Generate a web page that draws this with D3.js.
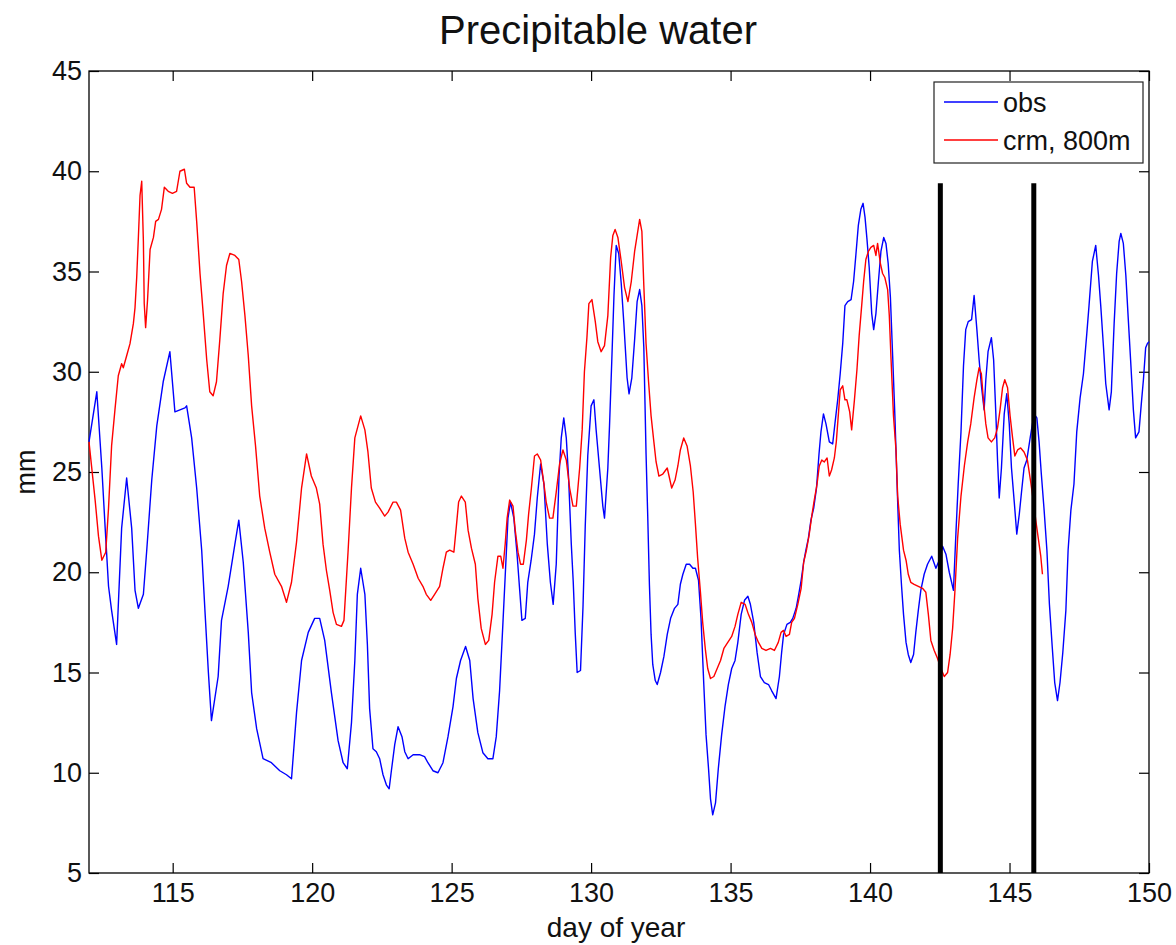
<!DOCTYPE html>
<html>
<head>
<meta charset="utf-8">
<script src="https://cdn.jsdelivr.net/npm/d3@7"></script>
<style>
  body { margin: 0; background: #fff; }
  #chart { width: 1176px; height: 945px; }
  text { font-family: "Liberation Sans", Arial, Helvetica, sans-serif; fill: #111; }
</style>
</head>
<body>
<div id="chart"></div>
<script>
// Datos (día del año, mm)
const obsDays = [112.0,112.28,112.46,112.58,112.70,112.81,112.99,113.17,113.35,113.53,113.65,113.77,113.95,114.07,114.25,114.43,114.66,114.90,115.08,115.44,115.50,115.68,115.86,116.04,116.16,116.28,116.39,116.63,116.75,116.99,117.23,117.37,117.53,117.71,117.83,118.01,118.24,118.54,118.84,119.08,119.26,119.44,119.62,119.86,120.09,120.27,120.45,120.69,120.93,121.11,121.26,121.41,121.53,121.62,121.74,121.89,121.98,122.06,122.18,122.30,122.42,122.54,122.66,122.76,122.84,122.96,123.08,123.22,123.32,123.44,123.62,123.85,124.03,124.15,124.33,124.51,124.69,124.87,125.05,125.17,125.32,125.50,125.65,125.77,125.94,126.12,126.30,126.48,126.60,126.72,126.84,126.92,127.02,127.11,127.23,127.34,127.44,127.52,127.64,127.73,127.85,127.97,128.07,128.19,128.31,128.43,128.54,128.64,128.75,128.85,128.93,129.02,129.11,129.19,129.29,129.36,129.43,129.50,129.62,129.71,129.79,129.88,130.00,130.10,130.18,130.30,130.42,130.48,130.60,130.66,130.74,130.82,130.90,130.99,131.08,131.17,131.29,131.36,131.46,131.56,131.65,131.74,131.82,131.89,131.97,132.03,132.09,132.15,132.21,132.30,132.37,132.49,132.61,132.73,132.85,132.99,133.11,133.20,133.29,133.41,133.53,133.65,133.74,133.85,133.94,134.04,134.12,134.21,134.28,134.36,134.46,134.56,134.68,134.80,134.92,135.04,135.16,135.26,135.38,135.50,135.62,135.71,135.83,135.95,136.07,136.21,136.36,136.47,136.63,136.75,136.83,136.90,137.02,137.14,137.23,137.35,137.43,137.53,137.62,137.70,137.79,137.88,137.98,138.08,138.17,138.24,138.33,138.42,138.54,138.66,138.74,138.84,138.93,139.02,139.10,139.20,139.32,139.41,139.49,139.58,139.67,139.75,139.82,139.89,139.97,140.06,140.13,140.21,140.30,140.39,140.49,140.57,140.65,140.73,140.81,140.89,140.99,141.05,141.13,141.20,141.29,141.37,141.46,141.56,141.64,141.73,141.82,141.94,142.06,142.21,142.36,142.48,142.60,142.72,142.84,142.99,143.08,143.16,143.26,143.35,143.43,143.52,143.64,143.73,143.83,143.91,144.00,144.09,144.15,144.23,144.35,144.43,144.51,144.57,144.63,144.71,144.81,144.90,144.99,145.07,145.17,145.26,145.35,145.43,145.52,145.62,145.74,145.88,145.98,146.06,146.14,146.24,146.34,146.43,146.53,146.62,146.72,146.81,146.91,147.02,147.10,147.20,147.31,147.41,147.53,147.65,147.77,147.85,147.97,148.09,148.19,148.27,148.37,148.45,148.57,148.65,148.75,148.84,148.93,148.99,149.08,149.17,149.25,149.34,149.44,149.52,149.64,149.73,149.80,149.88,149.94,150.0];
const obsValues = [26.5,29.0,25.2,22.2,19.3,18.1,16.4,22.2,24.7,22.2,19.1,18.2,18.9,21.1,24.6,27.3,29.5,31.0,28.0,28.2,28.3,26.7,24.2,21.1,18.0,15.0,12.6,14.8,17.6,19.3,21.4,22.6,20.5,17.0,14.0,12.2,10.7,10.5,10.1,9.9,9.7,13.0,15.6,17.0,17.7,17.7,16.6,14.0,11.6,10.5,10.2,12.5,15.6,18.9,20.2,18.9,16.4,13.2,11.2,11.05,10.7,9.9,9.4,9.2,10.1,11.4,12.3,11.8,11.05,10.7,10.9,10.9,10.8,10.5,10.1,10.0,10.5,11.8,13.3,14.7,15.6,16.3,15.6,13.7,12.0,11.0,10.7,10.7,11.8,14.1,17.5,19.8,22.7,23.5,22.7,21.0,19.1,17.6,17.7,19.5,20.6,21.9,23.7,25.4,24.4,21.4,19.5,18.4,20.4,24.8,26.7,27.7,26.7,24.8,21.4,19.5,17.0,15.0,15.1,18.3,22.3,25.8,28.3,28.6,27.1,25.2,23.3,22.7,25.2,27.3,30.5,33.8,36.3,35.9,34.4,32.5,29.7,28.9,29.7,31.6,33.5,34.1,33.3,31.2,25.9,22.8,19.4,16.9,15.4,14.6,14.4,15.0,15.8,16.9,17.7,18.2,18.4,19.4,19.9,20.4,20.4,20.2,20.2,19.6,17.7,14.4,11.9,10.2,8.7,7.9,8.5,10.2,11.9,13.3,14.4,15.2,15.6,16.5,17.9,18.6,18.8,18.4,17.5,16.0,14.8,14.5,14.4,14.1,13.7,14.8,16.0,16.9,17.4,17.5,17.7,18.2,18.8,19.6,20.5,21.1,21.7,22.6,23.2,24.2,25.9,27.0,27.9,27.4,26.5,26.4,27.4,28.6,29.9,31.4,33.3,33.5,33.6,34.5,35.8,37.3,38.1,38.4,37.7,36.6,35.2,32.9,32.1,32.9,34.5,36.0,36.7,36.4,35.4,33.7,30.8,27.8,23.5,21.1,19.3,17.9,16.5,15.9,15.5,15.9,17.0,18.1,19.1,19.9,20.4,20.8,20.2,20.6,21.3,20.9,20.0,19.1,22.0,24.4,27.0,30.3,32.1,32.5,32.6,33.8,32.1,30.6,29.2,28.1,29.6,31.0,31.7,30.6,27.9,25.6,23.7,25.2,27.9,28.9,27.4,25.2,23.5,21.9,22.9,24.0,25.2,25.6,26.7,27.9,27.7,26.5,24.9,23.1,21.1,18.4,16.3,14.5,13.6,14.5,16.0,18.1,21.1,23.1,24.4,27.0,28.7,29.9,31.9,33.3,35.5,36.3,34.8,33.3,31.2,29.4,28.1,29.0,32.4,34.9,36.5,36.9,36.4,34.8,32.8,30.6,28.1,26.7,27.0,28.5,29.6,31.2,31.4,31.5];

const crmDays = [112.0,112.22,112.34,112.46,112.60,112.70,112.81,112.93,113.05,113.17,113.23,113.35,113.47,113.59,113.65,113.71,113.77,113.83,113.89,113.95,113.98,114.03,114.10,114.19,114.31,114.39,114.49,114.60,114.70,114.84,114.99,115.14,115.26,115.42,115.50,115.62,115.77,115.86,115.98,116.10,116.22,116.33,116.45,116.57,116.69,116.81,116.93,117.05,117.23,117.37,117.47,117.59,117.71,117.83,117.97,118.12,118.30,118.48,118.66,118.90,119.08,119.26,119.44,119.62,119.80,119.97,120.15,120.27,120.39,120.51,120.63,120.75,120.87,121.05,121.14,121.29,121.41,121.53,121.74,121.89,122.00,122.12,122.27,122.42,122.60,122.72,122.90,123.02,123.17,123.32,123.44,123.62,123.80,123.97,124.09,124.25,124.39,124.57,124.69,124.81,124.93,125.08,125.17,125.25,125.35,125.49,125.59,125.71,125.85,125.94,126.06,126.21,126.33,126.45,126.54,126.66,126.76,126.84,126.92,126.99,127.08,127.20,127.28,127.38,127.47,127.57,127.68,127.76,127.86,127.97,128.07,128.19,128.31,128.39,128.51,128.63,128.75,128.87,128.99,129.11,129.23,129.35,129.47,129.59,129.68,129.76,129.85,129.92,130.03,130.15,130.24,130.36,130.48,130.60,130.70,130.78,130.86,130.96,131.08,131.20,131.32,131.44,131.56,131.65,131.74,131.82,131.89,131.97,132.06,132.15,132.25,132.33,132.43,132.57,132.73,132.81,132.89,133.01,133.11,133.20,133.32,133.44,133.56,133.66,133.74,133.82,133.92,134.00,134.10,134.18,134.28,134.40,134.52,134.64,134.76,134.90,135.04,135.16,135.26,135.38,135.52,135.64,135.76,135.88,136.00,136.12,136.27,136.43,136.57,136.71,136.81,136.90,136.99,137.11,137.19,137.29,137.41,137.53,137.62,137.72,137.82,137.91,138.00,138.10,138.18,138.27,138.36,138.46,138.54,138.62,138.72,138.79,138.86,138.93,139.02,139.10,139.17,139.27,139.34,139.44,139.53,139.61,139.70,139.77,139.85,139.94,140.03,140.13,140.21,140.27,140.37,140.45,140.53,140.63,140.69,140.75,140.84,140.93,140.99,141.08,141.20,141.29,141.37,141.46,141.58,141.73,141.88,142.00,142.09,142.18,142.30,142.42,142.54,142.66,142.78,142.87,142.96,143.04,143.14,143.26,143.38,143.50,143.61,143.73,143.83,143.91,143.99,144.07,144.15,144.23,144.35,144.47,144.57,144.66,144.75,144.83,144.93,145.02,145.11,145.19,145.29,145.40,145.52,145.64,145.76,145.86,145.94,146.03,146.12,146.18];
const crmValues = [26.5,23.6,21.8,20.6,21.0,23.2,26.3,28.1,29.8,30.4,30.2,30.8,31.4,32.4,33.2,34.7,36.7,38.8,39.5,36.5,33.4,32.2,33.6,36.1,36.7,37.5,37.6,38.1,39.2,39.0,38.9,39.0,40.0,40.1,39.4,39.2,39.2,37.5,34.9,32.8,30.6,29.0,28.8,29.5,31.6,33.9,35.3,35.9,35.8,35.6,34.5,32.8,30.8,28.3,26.3,23.8,22.2,21.0,19.9,19.3,18.5,19.5,21.5,24.2,25.9,24.8,24.2,23.4,21.4,20.1,19.1,18.0,17.4,17.3,17.6,21.1,24.2,26.7,27.8,27.1,26.0,24.2,23.5,23.2,22.8,23.0,23.5,23.5,23.1,21.7,21.0,20.4,19.7,19.3,18.9,18.6,18.9,19.3,20.2,21.0,21.1,21.0,22.3,23.5,23.8,23.5,22.1,21.2,20.4,18.7,17.2,16.4,16.6,17.9,19.5,20.8,20.8,20.2,21.4,22.7,23.6,23.3,22.1,21.0,20.4,20.4,21.6,22.9,24.2,25.8,25.9,25.6,24.4,23.5,22.7,22.7,24.0,25.4,26.1,25.6,24.2,23.3,23.3,25.2,27.1,30.0,31.7,33.4,33.6,32.5,31.5,31.0,31.3,32.8,35.7,36.8,37.1,36.7,35.5,34.2,33.5,34.5,36.0,36.8,37.6,37.0,34.3,31.4,29.5,27.8,26.5,25.5,24.8,24.9,25.2,24.7,24.2,24.6,25.3,26.1,26.7,26.3,25.3,24.0,22.4,20.7,19.0,17.5,16.1,15.2,14.7,14.8,15.2,15.6,16.2,16.5,16.8,17.3,17.9,18.5,18.4,17.9,17.5,16.9,16.5,16.2,16.1,16.2,16.1,16.5,17.0,17.1,16.8,16.9,17.5,17.7,18.4,19.2,20.5,21.1,21.9,22.8,23.6,24.4,25.3,25.6,25.5,25.7,24.8,25.1,25.7,26.5,27.8,29.1,29.3,28.6,28.6,28.0,27.1,28.6,30.1,31.8,33.3,34.5,35.6,36.0,36.2,36.3,35.8,36.4,35.4,34.9,34.7,34.1,32.8,30.7,27.8,26.1,23.8,22.4,21.1,20.6,19.9,19.5,19.4,19.3,19.2,19.0,17.9,16.6,16.1,15.7,15.2,14.8,15.0,15.9,17.2,19.0,21.7,23.8,25.3,26.5,27.4,28.7,29.6,30.2,29.9,28.5,27.4,26.7,26.5,26.7,27.2,28.1,29.2,29.6,29.2,27.8,26.7,25.8,26.1,26.2,26.0,25.6,24.5,23.5,22.6,21.7,20.8,19.9];

// Líneas verticales negras (día) y su extremo superior (mm)
const markerDays = [142.52, 145.87];
const markerTop = 39.4;

const xTicks = [115, 120, 125, 130, 135, 140, 145, 150];
const yTicks = [5, 10, 15, 20, 25, 30, 35, 40, 45];
const seriesNames = ['obs', 'crm, 800m'];

// Colores
const COLOR_OBS = '#0000FF',
COLOR_CRM = '#FF0000';

let margin = {top: 71, right: 27, bottom: 72, left: 89},
    width = 1176 - margin.left - margin.right,
    height = 945 - margin.top - margin.bottom;

let svg = d3.select('#chart')
    .append('svg')
      .attr('width', 1176)
      .attr('height', 945)
    .append('g')
      .attr('transform', 'translate(' + margin.left + ',' + margin.top + ')');

let x = d3.scaleLinear()
    .domain([112, 150])
    .range([0, width]);

let y = d3.scaleLinear()
    .domain([5, 45])
    .range([height, 0]);

// Ejes (ticks hacia dentro, estilo MATLAB)
function styleAxis(g) {
    g.selectAll('.domain').remove();
    g.selectAll('.tick line').attr('stroke', '#000').attr('stroke-width', 1.2);
    g.selectAll('.tick text').style('font-size', '27px').attr('fill', '#111');
}

svg.append('g')
    .attr('transform', 'translate(0,' + height + ')')
    .call(d3.axisBottom(x).tickValues(xTicks).tickSizeInner(-10).tickSizeOuter(0).tickPadding(10))
    .call(styleAxis);

svg.append('g')
    .call(d3.axisTop(x).tickValues(xTicks).tickSizeInner(-10).tickSizeOuter(0).tickFormat(''))
    .call(styleAxis);

svg.append('g')
    .call(d3.axisLeft(y).tickValues(yTicks).tickSizeInner(-10).tickSizeOuter(0).tickPadding(7))
    .call(styleAxis);

svg.append('g')
    .attr('transform', 'translate(' + width + ',0)')
    .call(d3.axisRight(y).tickValues(yTicks).tickSizeInner(-10).tickSizeOuter(0).tickFormat(''))
    .call(styleAxis);

// Marco
svg.append('rect')
    .attr('x', 0).attr('y', 0)
    .attr('width', width).attr('height', height)
    .attr('fill', 'none')
    .attr('stroke', '#000')
    .attr('stroke-width', 1.3);

let line = d3.line()
    .x(function(d) { return x(d[0]); })
    .y(function(d) { return y(d[1]); });

let obsData = d3.zip(obsDays, obsValues),
    crmData = d3.zip(crmDays, crmValues);

svg.append('path')
    .datum(obsData)
    .attr('fill', 'none')
    .attr('stroke', COLOR_OBS)
    .attr('stroke-width', 1.4)
    .attr('stroke-linejoin', 'round')
    .attr('d', line);

svg.append('path')
    .datum(crmData)
    .attr('fill', 'none')
    .attr('stroke', COLOR_CRM)
    .attr('stroke-width', 1.4)
    .attr('stroke-linejoin', 'round')
    .attr('d', line);

// Marcadores verticales
svg.selectAll('.marker')
    .data(markerDays)
    .enter()
    .append('line')
      .attr('class', 'marker')
      .attr('x1', function(d) { return x(d); })
      .attr('x2', function(d) { return x(d); })
      .attr('y1', y(markerTop))
      .attr('y2', y(5))
      .attr('stroke', '#000')
      .attr('stroke-width', 5);

// Títulos
svg.append('text')
    .attr('x', 509)
    .attr('y', -27)
    .attr('text-anchor', 'middle')
    .style('font-size', '40px')
    .text('Precipitable water');

svg.append('text')
    .attr('x', width / 2 - 3)
    .attr('y', height + 64)
    .attr('text-anchor', 'middle')
    .style('font-size', '28px')
    .text('day of year');

svg.append('text')
    .attr('transform', 'translate(' + (-54) + ',' + (y(25)) + ') rotate(-90)')
    .attr('text-anchor', 'middle')
    .style('font-size', '27px')
    .text('mm');

// Leyenda
let legend = svg.append('g')
    .attr('transform', 'translate(' + (width - 215) + ',11)');

legend.append('rect')
    .attr('width', 209)
    .attr('height', 81)
    .attr('fill', '#fff')
    .attr('stroke', '#222')
    .attr('stroke-width', 1.2);

let legendItems = legend.selectAll('.item')
    .data(seriesNames)
    .enter()
    .append('g')
      .attr('class', 'item')
      .attr('transform', function(d, i) { return 'translate(0,' + (20 + i * 38) + ')'; });

legendItems.append('line')
    .attr('x1', 10).attr('x2', 64)
    .attr('stroke', function(d, i) { return i === 0 ? COLOR_OBS : COLOR_CRM; })
    .attr('stroke-width', 1.4);

legendItems.append('text')
    .attr('x', 69)
    .attr('y', 10)
    .style('font-size', '27px')
    .text(function(d) { return d; });
</script>
</body>
</html>
